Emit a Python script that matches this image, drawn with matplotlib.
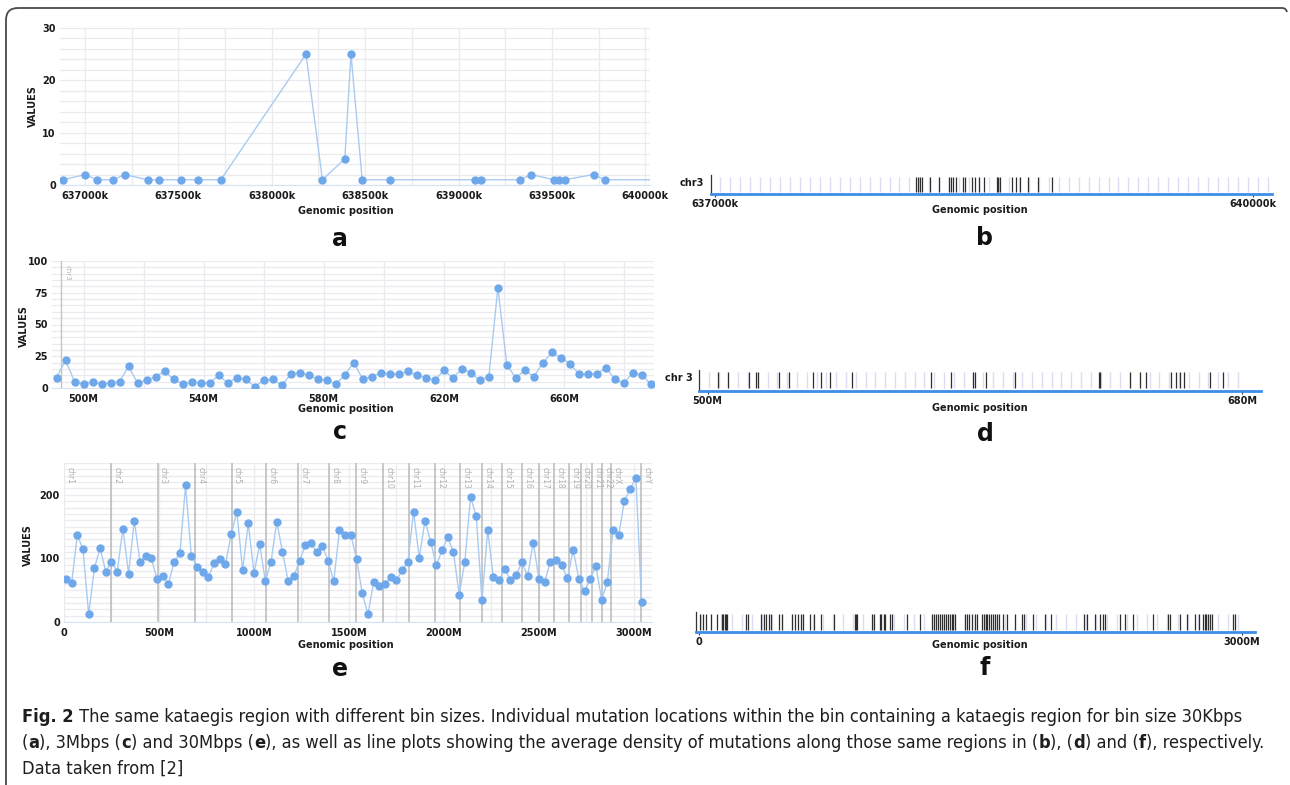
import matplotlib
matplotlib.use("Agg")
import matplotlib.pyplot as plt
import numpy as np
from matplotlib import font_manager
from matplotlib.font_manager import FontProperties
from matplotlib.path import Path
from matplotlib.patches import PathPatch

# ===========================
# DATA
# ===========================

# panel a: 30Kbps bins, position in k
a_pos = [636883, 637001, 637063, 637151, 637213, 637335, 637395, 637516, 637605, 637727,
         638183, 638271, 638391, 638424, 638484, 638634, 639090, 639119, 639329, 639389,
         639511, 639540, 639570, 639723, 639783, 640150]
a_val = [1, 2, 1, 1, 2, 1, 1, 1, 1, 1, 25, 1, 5, 25, 1, 1, 1, 1, 1, 2, 1, 1, 1, 2, 1, 1]

# panel c: 3Mbps bins, position in M
c_start, c_step = 491, 3
c_val = [8, 22, 5, 3, 5, 3, 4, 5, 17, 4, 6, 9, 13, 7, 3, 5, 4, 4, 10, 4,
         8, 7, 1, 6, 7, 2, 11, 12, 10, 7, 6, 3, 10, 20, 7, 9, 12, 11, 11, 13,
         10, 8, 6, 14, 8, 15, 12, 6, 9, 79, 18, 8, 14, 9, 20, 28, 24, 19, 11, 11,
         11, 16, 7, 4, 12, 10, 3]

# panel e: 30Mbps bins, position in M
e_start, e_step = 10, 30
e_val = [67, 61, 137, 114, 12, 85, 116, 79, 95, 79, 147, 76, 159, 95, 103, 100, 67, 72, 60, 95,
         108, 215, 104, 87, 79, 70, 93, 99, 91, 138, 173, 82, 155, 77, 122, 64, 95, 158, 110, 64,
         72, 96, 121, 124, 110, 120, 96, 64, 145, 137, 137, 99, 45, 12, 63, 56, 60, 71, 66, 81,
         95, 173, 101, 159, 126, 89, 113, 133, 110, 43, 95, 197, 166, 34, 145, 70, 66, 83, 66, 74,
         94, 72, 125, 67, 63, 95, 97, 89, 69, 113, 68, 48, 68, 88, 35, 63, 144, 137, 191, 209,
         227, 32]

chrom_names = ["chr1", "chr2", "chr3", "chr4", "chr5", "chr6", "chr7", "chr8", "chr9", "chr10",
               "chr11", "chr12", "chr13", "chr14", "chr15", "chr16", "chr17", "chr18", "chr19",
               "chr20", "chr21", "chr22", "chrX", "chrY"]
chrom_len = [249.3, 243.2, 198.0, 191.2, 180.9, 171.1, 159.1, 146.4, 141.2, 135.5, 135.0, 133.9,
             115.2, 107.4, 102.5, 90.4, 81.2, 78.1, 59.1, 63.0, 48.1, 51.3, 155.3, 59.4]

# panel b / d / f: mutation locations
b_mut = [638120, 638130, 638141, 638156, 638199, 638248, 638306, 638317, 638328, 638343,
         638381, 638392, 638435, 638448, 638474, 638499, 638574, 638581, 638589, 638654,
         638677, 638703, 638744, 638804, 638879]
d_mut = [503.6, 506.9, 514.0, 516.3, 517.0, 524.1, 527.3, 535.4, 538.3, 541.2, 548.6, 575.1,
         582.0, 589.4, 589.9, 593.9, 603.6, 631.9, 632.3, 642.2, 645.5, 647.7, 656.2, 657.8,
         659.1, 660.6, 669.2, 673.6]
f_mut = [4, 21, 38, 64, 100, 127, 134, 142, 149, 155, 259, 272, 340, 357, 372, 389, 397, 440,
         457, 516, 531, 546, 563, 574, 616, 633, 676, 744, 860, 867, 875, 956, 967, 998, 1005,
         1020, 1030, 1058, 1066, 1147, 1222, 1285, 1300, 1311, 1321, 1332, 1343, 1353, 1364,
         1375, 1385, 1396, 1406, 1417, 1470, 1483, 1491, 1508, 1525, 1534, 1561, 1572, 1583,
         1593, 1604, 1615, 1625, 1636, 1646, 1657, 1678, 1700, 1748, 1785, 1795, 1848, 1912,
         1944, 2129, 2141, 2188, 2216, 2231, 2241, 2326, 2354, 2396, 2507, 2592, 2602, 2656,
         2698, 2741, 2762, 2783, 2794, 2804, 2815, 2826, 2836, 2953, 2959]

# caption lines as (text, bold) pieces
caption = [
    [("Fig. 2", True), (" The same kataegis region with different bin sizes. Individual mutation "
                        "locations within the bin containing a kataegis region for bin size 30Kbps",
                        False)],
    [("(", False), ("a", True), ("), 3Mbps (", False), ("c", True), (") and 30Mbps (", False),
     ("e", True), ("), as well as line plots showing the average density of mutations along "
                   "those same regions in (", False), ("b", True), ("), (", False), ("d", True),
     (") and (", False), ("f", True), ("), respectively.", False)],
    [("Data taken from [2]", False)],
]

# ===========================
# STYLE
# ===========================

W, H = 1290, 785
LINE_C = "#a9cbf1"
DOT_C = "#6ea8ea"
GRID_C = "#ebebef"
TICK_FONT = dict(fontsize=7, fontweight="bold", color="#1b1b1b")


def find_font(names, stretch_ok, weight):
    """Returns the file of the first installed font matching one of the names."""
    for name in names:
        for f in font_manager.fontManager.ttflist:
            w = f.weight if isinstance(f.weight, int) else (700 if "bold" in str(f.weight) else 400)
            if f.name == name and stretch_ok(f.stretch) and abs(w - weight) < 100 \
                    and f.style == "normal":
                return f.fname
    return None


def narrow(s):
    return "condensed" in str(s)


cap_reg = find_font(["Liberation Sans Narrow"], lambda s: True, 400) or \
    find_font(["DejaVu Sans", "Roboto", "Open Sans", "Noto Sans"], narrow, 400)
cap_bold = find_font(["Liberation Sans Narrow"], lambda s: True, 700) or \
    find_font(["DejaVu Sans", "Roboto", "Open Sans", "Noto Sans"], narrow, 700)
if cap_reg and cap_bold:
    fp_reg, fp_bold = FontProperties(fname=cap_reg), FontProperties(fname=cap_bold)
else:
    fp_reg = FontProperties(family="Liberation Sans")
    fp_bold = FontProperties(family="Liberation Sans", weight="bold")

fig = plt.figure(figsize=(W / 100, H / 100), dpi=100)
bg = fig.add_axes([0, 0, 1, 1])
bg.set_xlim(0, W)
bg.set_ylim(H, 0)
bg.axis("off")


def px_axes(left, top, right, bottom):
    return fig.add_axes([left / W, 1 - bottom / H, (right - left) / W, (bottom - top) / H])


def line_panel(ax, x, y, xlim, ylim, yticks, ystep, xticks, xlabels, xgrid):
    ax.plot(x, y, color=LINE_C, lw=1.0, marker="o", ms=5, mfc=DOT_C, mec=DOT_C, zorder=4)
    ax.set_yticks(yticks)
    ax.set_yticks(np.arange(ylim[0], ylim[1] + 0.01, ystep), minor=True)
    ax.set_xticks(xticks)
    ax.set_xticklabels(xlabels, **TICK_FONT)
    ax.set_yticklabels([str(v) for v in yticks], **TICK_FONT)
    ax.set_xticks(xgrid, minor=True)
    # limits last: set_xticks may widen the view otherwise
    ax.set_xlim(*xlim)
    ax.set_ylim(*ylim)
    ax.grid(which="both", color=GRID_C, lw=0.9, zorder=0)
    ax.tick_params(which="both", length=0)
    ax.tick_params(axis="x", pad=4)
    ax.tick_params(axis="y", pad=3)
    for s in ["top", "right", "left"]:
        ax.spines[s].set_visible(False)
    ax.spines["bottom"].set_color("#d4e3f6")
    ax.set_axisbelow(True)


def track_panel(ax, muts, bg_lines, xlim, ticks, labels, chr_label):
    ax.vlines(bg_lines, 0.12, 0.9, color="#dcdcf3", lw=1.0)
    ax.vlines(muts, 0.12, 0.9, color="#2e2e2e", lw=0.9)
    ax.set_yticks([])
    ax.set_xticks(ticks)
    ax.set_xticklabels(labels, **TICK_FONT)
    ax.set_xlim(*xlim)
    ax.set_ylim(0, 1)
    ax.tick_params(axis="x", length=2.5, width=0.8, color="#333", pad=1)
    ax.spines["top"].set_visible(False)
    ax.spines["right"].set_visible(False)
    ax.spines["bottom"].set_color("#3d8ee6")
    ax.spines["bottom"].set_linewidth(2)
    ax.spines["left"].set_color("#333")
    ax.spines["left"].set_linewidth(0.9)
    if chr_label:
        ax.text(-0.012, 0.6, chr_label, transform=ax.transAxes, ha="right", va="center",
                **TICK_FONT)


# ---- panel a
ax_a = px_axes(60, 28, 650, 185)
line_panel(ax_a, a_pos, a_val, (636866, 640025), (0, 30), [0, 10, 20, 30], 2,
           [637000, 637500, 638000, 638500, 639000, 639500, 640000],
           ["637000k", "637500k", "638000k", "638500k", "639000k", "639500k", "640000k"],
           np.arange(637000, 640001, 250))

# ---- panel c
c_pos = [c_start + c_step * i for i in range(len(c_val))]
ax_c = px_axes(52, 261, 654, 388)
line_panel(ax_c, c_pos, c_val, (489.5, 690), (0, 100), [0, 25, 50, 75, 100], 5,
           [500, 540, 580, 620, 660], ["500M", "540M", "580M", "620M", "660M"],
           np.arange(500, 690, 20))
ax_c.axvline(492.4, color="#c4c4c4", lw=1.0, zorder=1)
ax_c.text(493.6, 97, "chr3", rotation=270, fontsize=5, color="#b5b5b5", va="top", ha="left")

# ---- panel e
e_pos = [e_start + e_step * i for i in range(len(e_val))]
ax_e = px_axes(64, 463, 652, 622)
line_panel(ax_e, e_pos, e_val, (0, 3095), (0, 250), [0, 100, 200], 10,
           [0, 500, 1000, 1500, 2000, 2500, 3000],
           ["0", "500M", "1000M", "1500M", "2000M", "2500M", "3000M"],
           np.arange(0, 3100, 250))
chrom_start = np.concatenate([[0], np.cumsum(chrom_len)[:-1]])
for name, st in zip(chrom_names, chrom_start):
    if st > 0:
        ax_e.axvline(st, color="#b9b9b9", lw=1.1, zorder=1)
    ax_e.text(st + 8, 244, name, rotation=270, fontsize=5.5, color="#b0b0b0",
              va="top", ha="left")

# ---- panels b, d, f
ax_b = px_axes(711, 175, 1272, 194)
track_panel(ax_b, b_mut, np.arange(637030, 640100, 55.5), (636978, 640106),
            [637000, 640000], ["637000k", "640000k"], "chr3")
ax_d = px_axes(699, 370, 1261, 391)
track_panel(ax_d, d_mut, np.arange(500.4, 679, 3.3), (497.1, 686.4),
            [500, 680], ["500M", "680M"], "chr 3")
ax_f = px_axes(696, 612, 1255, 632)
track_panel(ax_f, f_mut, np.arange(12, 3000, 56), (-16.6, 3072),
            [0, 3000], ["0", "3000M"], None)

# ---- shared text
for ax_x, y in [(346, 211), (346, 409), (346, 645), (980, 210), (980, 408), (980, 645)]:
    bg.text(ax_x, y, "Genomic position", ha="center", va="center", **TICK_FONT)
for x, y in [(33, 106), (24, 326), (28, 545)]:
    bg.text(x, y, "VALUES", rotation=90, ha="center", va="center", **TICK_FONT)
for letter, x, y in [("a", 340, 239), ("b", 985, 238), ("c", 340, 432),
                     ("d", 985, 434), ("e", 340, 669), ("f", 985, 668)]:
    bg.text(x, y, letter, ha="center", va="center", fontsize=17, fontweight="bold",
            color="#111")

# ---- frame
frame = Path([(6, 785), (6, 20), (6, 8), (18, 8), (1282, 8), (1286, 8), (1287, 12)],
             [Path.MOVETO, Path.LINETO, Path.CURVE3, Path.CURVE3, Path.LINETO,
              Path.CURVE3, Path.CURVE3])
bg.add_patch(PathPatch(frame, fill=False, edgecolor="#4a4a4a", lw=1.3))

# ---- caption: pieces placed one after another, size fitted to the line widths
renderer = fig.canvas.get_renderer()


def piece_width(txt, bold, size):
    fp = (fp_bold if bold else fp_reg).copy()
    fp.set_size(size)
    t1 = bg.text(0, 0, "|" + txt + "|", fontproperties=fp)
    t2 = bg.text(0, 0, "||", fontproperties=fp)
    w = t1.get_window_extent(renderer).width - t2.get_window_extent(renderer).width
    t1.remove()
    t2.remove()
    return w


def line_width(pieces, size):
    return sum(piece_width(t, b, size) for t, b in pieces)


size = 13.5
size = min(size * 1246 / line_width(caption[0], size),
           size * 1240 / line_width(caption[1], size))

for pieces, y in zip(caption, [722, 748, 774]):
    x = 22
    for txt, bold in pieces:
        fp = (fp_bold if bold else fp_reg).copy()
        fp.set_size(size)
        bg.text(x, y, txt, fontproperties=fp, color="#1e1e1e", va="baseline", ha="left")
        x += piece_width(txt, bold, size)

fig.savefig("out.png", dpi=100)
